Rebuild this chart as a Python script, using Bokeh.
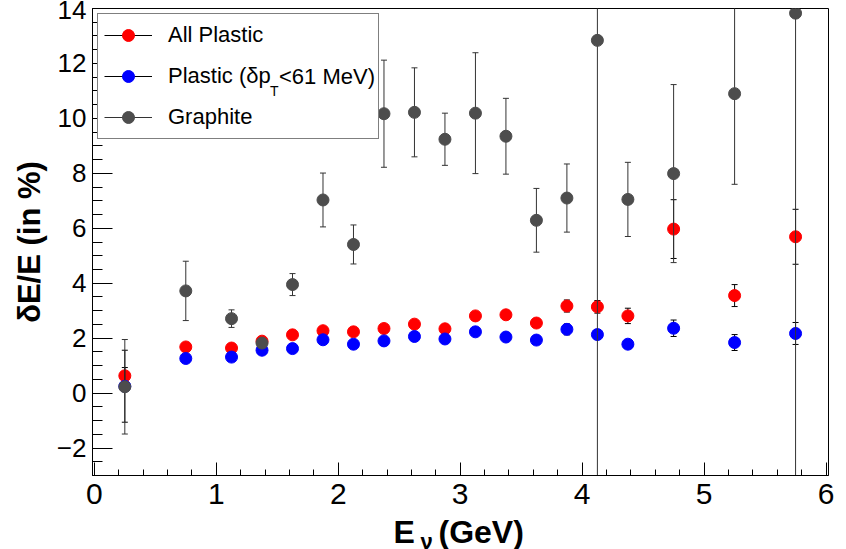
from bokeh.plotting import figure
from bokeh.layouts import column
from bokeh.models import (ColumnDataSource, Range1d, SingleIntervalTicker, Legend,
                          LegendItem)
from bokeh.core.properties import value
from bokeh.embed import file_html
from bokeh.resources import INLINE

# ---- data ----
energy = [0.25, 0.75, 1.125, 1.375, 1.625, 1.875, 2.125, 2.375, 2.625, 2.875,
          3.125, 3.375, 3.625, 3.875, 4.125, 4.375, 4.75, 5.25, 5.75]

all_plastic = [0.63, 1.68, 1.64, 1.89, 2.12, 2.27, 2.23, 2.35, 2.51, 2.34,
               2.81, 2.85, 2.55, 3.17, 3.14, 2.81, 5.97, 3.55, 5.69]
all_plastic_err = [0.30, 0.10, 0.10, 0.10, 0.10, 0.10, 0.10, 0.10, 0.10, 0.10,
                   0.12, 0.12, 0.12, 0.22, 0.23, 0.28, 1.07, 0.40, 1.00]

plastic_cut = [0.25, 1.26, 1.31, 1.56, 1.62, 1.94, 1.78, 1.90, 2.06, 1.97,
               2.23, 2.04, 1.93, 2.32, 2.13, 1.78, 2.36, 1.84, 2.17]
plastic_cut_err = [1.31, 0.08, 0.08, 0.08, 0.08, 0.08, 0.08, 0.08, 0.08, 0.08,
                   0.10, 0.10, 0.10, 0.20, 0.18, 0.10, 0.30, 0.29, 0.40]

graphite = [0.23, 3.72, 2.71, 1.82, 3.95, 7.03, 5.41, 10.17, 10.22, 9.24,
            10.19, 9.35, 6.29, 7.10, 12.84, 7.05, 7.99, 10.90, 13.83]
graphite_err = [1.72, 1.08, 0.32, 0.15, 0.40, 0.98, 0.71, 1.95, 1.62, 0.95,
                2.20, 1.38, 1.16, 1.24, 17.0, 1.35, 3.24, 3.30, 18.0]

series_names = ["All Plastic", "Plastic (\u03b4p", "Graphite"]
x_ticks_interval = 1
y_ticks_interval = 2

FONT = "Liberation Sans"

# frame geometry (pixels) and ranges
X0, X1 = -0.015, 6.02
Y0, Y1 = -3.0, 14.0
FL, FR, FT, FB = 92, 828, 8, 475
W, H = 846, 549
H_MAIN = 518           # main plot: frame + tick labels
H_TITLE = H - H_MAIN   # strip below it holding the x-axis title

p = figure(width=W, height=H_MAIN, output_backend="svg", toolbar_location=None,
           x_range=Range1d(X0, X1), y_range=Range1d(Y0, Y1),
           min_border_left=FL, min_border_right=W - FR, min_border_top=FT,
           min_border_bottom=H_MAIN - FB)
p.grid.visible = False
p.outline_line_color = "black"
p.outline_line_width = 1
p.background_fill_color = "white"
p.border_fill_color = "white"

# axes, ROOT style: ticks inside
p.xaxis.ticker = SingleIntervalTicker(interval=x_ticks_interval, num_minor_ticks=5)
p.yaxis.ticker = SingleIntervalTicker(interval=y_ticks_interval, num_minor_ticks=4)
for ax in (p.xaxis[0], p.yaxis[0]):
    ax.major_tick_out = 0
    ax.minor_tick_out = 0
    ax.axis_line_color = "black"
    ax.major_tick_line_color = "black"
    ax.minor_tick_line_color = "black"
    ax.major_label_text_font = FONT
    ax.major_label_text_color = "black"
p.xaxis.major_tick_in = 13
p.xaxis.minor_tick_in = 6
p.yaxis.major_tick_in = 20
p.yaxis.minor_tick_in = 10
p.xaxis.major_label_text_font_size = "30px"
p.xaxis.major_label_standoff = 8
p.yaxis.major_label_text_font_size = "26px"
p.yaxis.major_label_standoff = 6

p.yaxis.axis_label = "\u03b4E/E (in %)"
p.yaxis.axis_label_text_font = FONT
p.yaxis.axis_label_text_font_style = "bold"
p.yaxis.axis_label_text_font_size = "31px"
p.yaxis.axis_label_text_color = "black"
p.yaxis.axis_label_standoff = 7


def draw(vals, errs, color, err_color):
    lo = [v - e for v, e in zip(vals, errs)]
    hi = [v + e for v, e in zip(vals, errs)]
    src = ColumnDataSource(dict(x=energy, y=vals, lo=lo, hi=hi))
    seg = p.segment(x0="x", y0="lo", x1="x", y1="hi", source=src,
                    line_color=err_color, line_width=1)
    p.scatter(x="x", y="lo", marker="dash", size=6, line_color=err_color,
              line_width=1, source=src)
    p.scatter(x="x", y="hi", marker="dash", size=6, line_color=err_color,
              line_width=1, source=src)
    mk = p.scatter(x="x", y="y", size=12, fill_color=color, line_color=color,
                   source=src)
    return seg, mk


s_red, r_red = draw(all_plastic, all_plastic_err, "#ff0000", "black")
s_blue, r_blue = draw(plastic_cut, plastic_cut_err, "#0000ff", "black")
s_gray, r_gray = draw(graphite, graphite_err, "#4d4d4d", "#333333")

legend = Legend(items=[
    LegendItem(label=series_names[0], renderers=[s_red, r_red]),
    LegendItem(label=series_names[1], renderers=[s_blue, r_blue]),
    LegendItem(label=series_names[2], renderers=[s_gray, r_gray]),
], location=(97 - FL, FB - 139), margin=0, padding=6, spacing=11,
    glyph_width=48, glyph_height=30, label_height=30, label_width=204,
    label_standoff=16, label_text_font=FONT, label_text_font_size="22px",
    label_text_color="black", border_line_color="black", border_line_width=1,
    background_fill_color="white", background_fill_alpha=1.0)
p.add_layout(legend, "center")


def add_text(left_px, center_px, row_h, text, size):
    """A bare text block (legend without glyph or box), placed in pixels."""
    tb = Legend(items=[LegendItem(label=text, renderers=[])],
                location=(left_px - FL, FB - (center_px + row_h / 2)),
                margin=0, padding=0, spacing=0, glyph_width=0,
                glyph_height=row_h, label_height=row_h, label_standoff=0,
                label_text_font=FONT, label_text_font_size=size,
                label_text_color="black", border_line_color=None,
                background_fill_alpha=0.0)
    p.add_layout(tb, "center")


# rest of the second legend label, with subscript T
add_text(270, 91, 20, "T", "14px")
add_text(279, 77, 30, "<61 MeV)", "22px")

# strip under the plot for the x-axis title: E_nu (GeV); its x scale is in
# canvas pixels, its y scale in pixels up from the strip bottom
t = figure(width=W, height=H_TITLE, output_backend="svg", toolbar_location=None,
           x_axis_type=None, y_axis_type=None,
           min_border_left=FL, min_border_right=W - FR, min_border_top=0,
           min_border_bottom=0,
           x_range=Range1d(FL, FR), y_range=Range1d(0, H_TITLE))
t.grid.visible = False
t.outline_line_color = None
t.background_fill_color = "white"
t.border_fill_color = "white"

SHIFT = 12  # measured offset of the strip in the rendered page
title_parts = ["E", "\u03bd", "(GeV)"]
title_sizes = ["32px", "22px", "32px"]
title_left = [393, 420, 438]
title_base = [H - 543 + SHIFT, H - 553 + SHIFT, H - 543 + SHIFT]
for txt, sz, lx, by in zip(title_parts, title_sizes, title_left, title_base):
    t.text(x=[lx], y=[by], text=[txt], text_font=value(FONT),
           text_font_size=value(sz), text_font_style="bold",
           text_baseline="alphabetic", text_align="left", text_color="black")

layout = column(p, t, spacing=0)
open("out.html", "w").write(file_html(layout, INLINE))
